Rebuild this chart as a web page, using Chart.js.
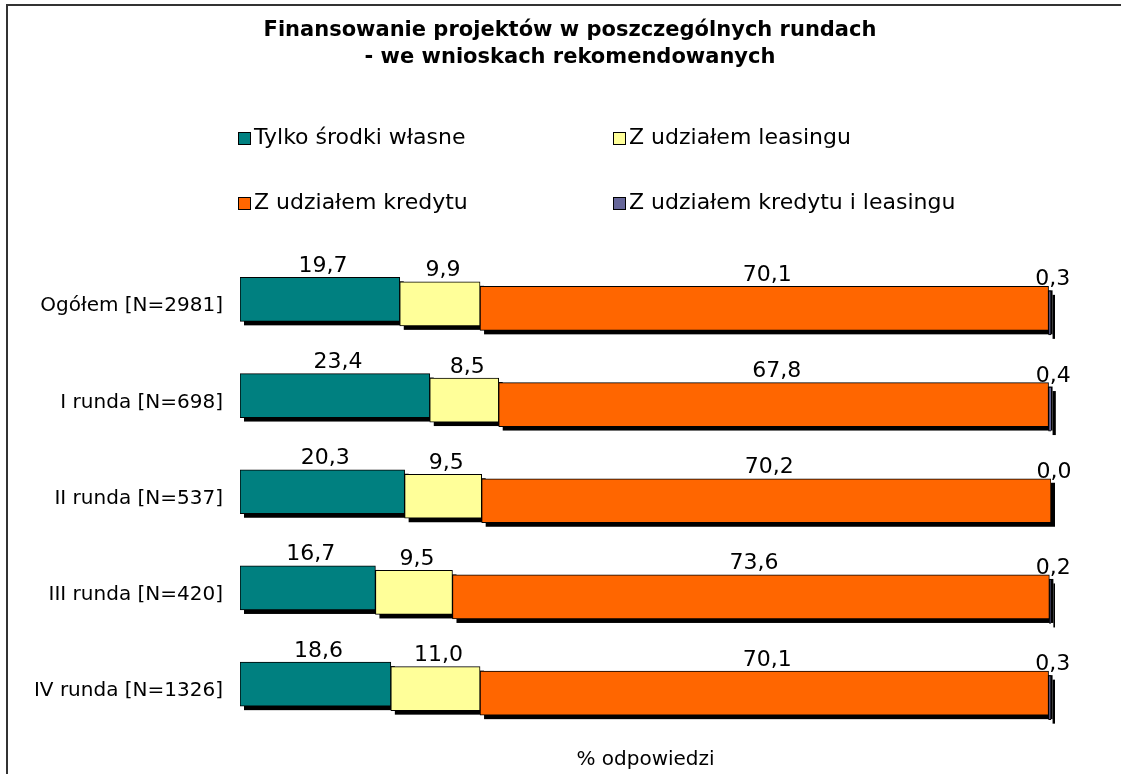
<!DOCTYPE html>
<html>
<head>
<meta charset="utf-8">
<script src="https://cdn.jsdelivr.net/npm/chart.js@4"></script>
<style>
  html, body { margin: 0; padding: 0; background: #fff; }
  #wrap { width: 1121px; height: 774px; }
</style>
</head>
<body>
<div id="wrap"><canvas id="myChart"></canvas></div>
<script>
const rundy = ['Ogółem [N=2981]', 'I runda [N=698]', 'II runda [N=537]', 'III runda [N=420]', 'IV runda [N=1326]'];
const tylkoWlasne = [19.7, 23.4, 20.3, 16.7, 18.6];
const leasing = [9.9, 8.5, 9.5, 9.5, 11.0];
const kredyt = [70.1, 67.8, 70.2, 73.6, 70.1];
const kredytLeasing = [0.3, 0.4, 0.0, 0.2, 0.3];
const serie = ['Tylko środki własne', 'Z udziałem leasingu', 'Z udziałem kredytu', 'Z udziałem kredytu i leasingu'];
const kolory = ['#008080', '#FFFF99', '#FF6600', '#666699'];
const tytul = ['Finansowanie projektów w poszczególnych rundach', '- we wnioskach rekomendowanych'];

const FONT = 'DejaVu Sans';
const krok = 4.5; // przesuniecie kolejnych serii w dol (efekt 3D)
const przes = i => (i - 1.5) * krok;

const fmt = v => v.toFixed(1).replace('.', ',');

// ramka, tytul, cienie, przesuniecia, etykiety, legenda
const efekty = {
    id: 'efekty',
    beforeDraw(chart) {
        const c = chart.ctx;
        c.save();
        c.strokeStyle = '#333';
        c.lineWidth = 2;
        c.beginPath();
        c.moveTo(7, 774);
        c.lineTo(7, 5);
        c.lineTo(1121, 5);
        c.stroke();
        c.font = 'bold 21px "' + FONT + '"';
        c.fillStyle = '#000';
        c.textAlign = 'center';
        c.textBaseline = 'middle';
        tytul.forEach((t, k) => c.fillText(t, 570, 31 + k * 27));
        c.restore();
    },
    beforeDatasetsDraw(chart) {
        const c = chart.ctx;
        c.save();
        c.fillStyle = '#000';
        chart.data.datasets.forEach((ds, i) => {
            chart.getDatasetMeta(i).data.forEach(el => {
                const x0 = Math.min(el.x, el.base), w = Math.abs(el.x - el.base);
                if (w <= 0) return;
                c.fillRect(x0 + 4, el.y - el.height / 2 + przes(i) + 4, w, el.height);
            });
        });
        c.restore();
    },
    beforeDatasetDraw(chart, args) {
        chart.ctx.save();
        chart.ctx.translate(0, przes(args.index));
    },
    afterDatasetDraw(chart) {
        chart.ctx.restore();
    },
    afterDatasetsDraw(chart) {
        const c = chart.ctx;
        c.save();
        c.font = '22px "' + FONT + '"';
        c.fillStyle = '#000';
        c.textAlign = 'center';
        c.textBaseline = 'alphabetic';
        chart.data.datasets.forEach((ds, i) => {
            chart.getDatasetMeta(i).data.forEach((el, j) => {
                const xc = (el.x + el.base) / 2 + 3;
                const top = el.y - el.height / 2 + przes(i);
                c.fillText(fmt(ds.data[j]), xc, top - 5.5);
            });
        });
        // legenda 2x2
        const kol = [238, 613], wier = [138.5, 203.5];
        chart.data.datasets.forEach((ds, i) => {
            const x = kol[i % 2], y = wier[Math.floor(i / 2)];
            c.fillStyle = ds.backgroundColor;
            c.fillRect(x, y - 6.5, 13, 13);
            c.strokeStyle = '#000';
            c.lineWidth = 1;
            c.strokeRect(x + 0.5, y - 6, 12, 12);
            c.fillStyle = '#000';
            c.textAlign = 'left';
            c.textBaseline = 'middle';
            c.fillText(ds.label, x + 16, y);
        });
        c.restore();
    }
};

const ctx = document.getElementById('myChart').getContext('2d');
const myChart = new Chart(ctx, {
    type: 'bar',
    data: {
        labels: rundy,
        datasets: [tylkoWlasne, leasing, kredyt, kredytLeasing].map((d, i) => ({
            label: serie[i],
            data: d,
            backgroundColor: kolory[i],
            borderColor: '#000',
            borderWidth: 1,
            borderSkipped: false,
            barThickness: 44
        }))
    },
    options: {
        indexAxis: 'y',
        responsive: true,
        maintainAspectRatio: false,
        animation: false,
        layout: { padding: { left: 0, right: 70, top: 258, bottom: 2 } },
        plugins: {
            legend: { display: false },
            tooltip: { enabled: false },
            title: { display: false }
        },
        scales: {
            x: {
                stacked: true,
                min: 0,
                max: 100,
                grid: { display: false, drawTicks: false },
                border: { display: false },
                ticks: { display: false },
                title: {
                    display: true,
                    text: '% odpowiedzi',
                    color: '#000',
                    font: { family: FONT, size: 20 },
                    padding: { top: 9, bottom: 0 }
                }
            },
            y: {
                stacked: true,
                grid: { display: false, drawTicks: false },
                border: { display: false },
                ticks: { color: '#000', font: { family: FONT, size: 20 }, padding: 17 },
                afterFit(scale) { scale.width = 240; }
            }
        }
    },
    plugins: [efekty]
});
</script>
</body>
</html>
